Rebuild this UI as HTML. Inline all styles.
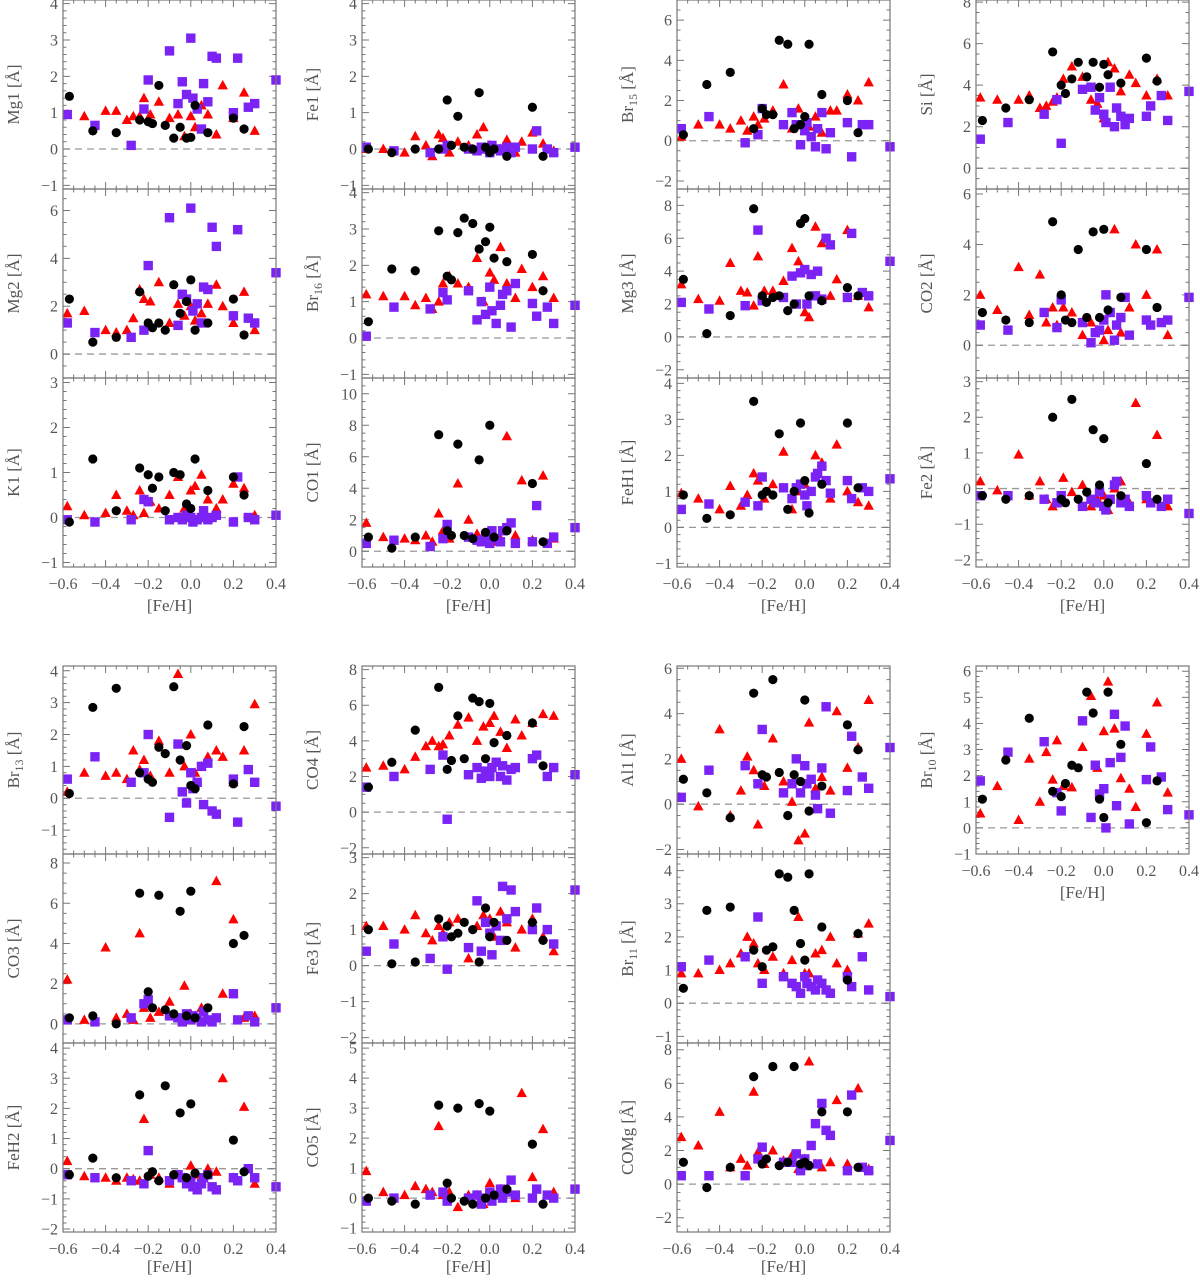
<!DOCTYPE html>
<html><head><meta charset="utf-8"><title>Equivalent widths vs [Fe/H]</title>
<style>
html,body{margin:0;padding:0;background:#fff;}
svg{display:block;}
text{font-family:"Liberation Serif","DejaVu Serif",serif;fill:#555;}
</style></head>
<body>
<svg id="fig" width="1200" height="1280" viewBox="0 0 1200 1280" xmlns="http://www.w3.org/2000/svg"></svg>
<script>
const feBlack  = [-0.57,-0.46,-0.35,-0.24,-0.2,-0.18,-0.15,-0.12,-0.08,-0.05,-0.02,0.0,0.02,0.08,0.2,0.25];
const feRed    = [-0.58,-0.5,-0.4,-0.35,-0.3,-0.27,-0.24,-0.22,-0.19,-0.15,-0.1,-0.06,-0.03,0.0,0.02,0.05,0.08,0.12,0.15,0.2,0.25,0.3];
const fePurple = [-0.58,-0.45,-0.28,-0.22,-0.2,-0.1,-0.06,-0.04,-0.02,0.0,0.01,0.03,0.05,0.06,0.08,0.1,0.12,0.2,0.22,0.27,0.3,0.4];
const xTicks = [-0.6,-0.4,-0.2,0.0,0.2,0.4];
const xTickLabels = ["\u22120.6","\u22120.4","\u22120.2","0.0","0.2","0.4"];

const mg1Black=[1.45,0.5,0.45,0.8,0.75,0.7,1.75,0.65,0.3,0.6,0.3,0.32,1.2,0.45,0.85,0.55];
const mg1Red=[0.95,0.9,1.05,1.05,0.8,0.9,0.9,1.4,0.95,1.3,0.85,0.95,0.35,0.9,0.6,1.2,0.95,0.4,1.75,0.85,1.55,0.5];
const mg1Purple=[0.95,0.65,0.1,1.1,1.9,2.7,1.25,1.85,1.5,3.05,1.4,1.1,0.55,1.8,1.3,2.55,2.5,1.0,2.5,1.15,1.25,1.9];
const fe1Black=[0,-0.1,0,0,1.35,0.1,0.9,0.05,0,1.55,0.05,-0.1,0,-0.2,1.15,-0.2];
const fe1Red=[0,0,-0.1,0.35,0.1,-0.2,0.4,0.3,-0.1,0.2,0.1,0.4,0.6,0.1,0.05,0,0.25,-0.1,0.2,0.45,0.15,-0.05];
const fe1Purple=[0.05,-0.05,-0.1,0,0.1,0,-0.05,0.05,0,-0.1,0.1,0,-0.05,0,0.05,-0.1,0.05,0,0.5,0,-0.1,0.05];
const br15Black=[0.3,2.8,3.4,0.6,1.6,1.3,1.3,5.0,4.8,0.6,0.8,1.2,4.8,2.3,2.0,0.4];
const br15Red=[0.2,0.8,0.8,0.6,1.0,0.5,1.2,0.8,1.1,1.5,2.8,0.6,1.6,0.5,0.7,1.2,0.4,1.5,1.5,2.3,2.0,2.9];
const br15Purple=[0.6,1.2,-0.1,0.3,1.6,0.8,1.4,0.8,-0.2,0.5,0.9,0.2,-0.3,0.6,1.4,-0.4,0.4,0.9,-0.8,0.8,0.8,-0.3];
const siBlack=[2.3,2.9,3.3,5.6,4.0,3.6,4.3,5.1,4.4,5.1,3.9,5.0,4.5,4.1,5.3,4.2];
const siRed=[3.4,3.3,3.3,3.5,2.9,3.0,3.2,3.4,4.3,4.9,4.4,3.3,3.1,2.4,5.1,4.8,3.7,4.5,4.1,3.5,4.3,3.5];
const siPurple=[1.4,2.2,2.6,3.3,1.2,3.8,3.9,2.8,3.4,2.6,2.2,3.9,2.0,2.9,2.5,2.1,2.4,2.5,3.0,3.5,2.3,3.7];
const mg2Black=[2.3,0.5,0.7,2.6,1.3,1.1,1.3,1.0,2.9,1.7,2.2,3.1,1.0,1.3,2.3,0.8];
const mg2Red=[1.7,1.8,1.0,0.9,1.0,1.5,2.7,2.3,2.2,3.0,1.3,2.1,1.6,2.0,1.4,1.7,2.1,2.9,2.0,1.3,2.6,1.0];
const mg2Purple=[1.3,0.9,0.7,1.0,3.7,5.7,1.2,2.5,2.3,6.1,1.8,2.1,1.3,2.8,2.7,5.3,4.5,1.6,5.2,1.5,1.3,3.4];
const br16Black=[0.45,1.9,1.85,2.95,1.7,1.6,2.9,3.3,3.15,2.45,2.65,3.05,2.2,2.1,2.3,1.3];
const br16Red=[1.2,1.15,1.15,0.9,1.1,0.8,1.0,1.5,1.7,1.5,1.4,2.2,1.0,1.8,1.6,2.5,1.5,1.1,1.9,1.4,1.7,1.1];
const br16Purple=[0.05,0.85,0.8,1.25,1.05,1.3,0.5,1.0,0.65,1.4,0.75,0.4,0.9,1.2,1.3,0.3,1.5,0.95,0.6,0.85,0.4,0.9];
const mg3Black=[3.5,0.2,1.3,7.8,2.5,2.1,2.4,2.5,1.6,2.0,6.9,7.2,2.5,2.2,3.0,2.5];
const mg3Red=[3.2,2.3,2.2,4.5,2.8,2.7,1.9,4.9,2.8,2.8,3.4,5.4,4.6,1.5,1.2,6.7,5.7,2.5,3.5,6.5,2.5,1.8];
const mg3Purple=[2.1,1.7,1.9,6.5,2.2,2.4,3.7,2.0,3.9,4.1,2.0,3.8,2.5,4.0,2.3,6.0,5.6,2.4,6.3,2.7,2.5,4.6];
const co2Black=[1.3,1.0,0.9,4.9,2.0,1.0,0.9,3.8,1.1,4.5,1.1,4.6,1.4,1.9,3.8,1.5];
const co2Red=[2.0,1.4,3.1,1.2,2.8,0.9,1.5,0.8,1.5,1.3,0.4,0.9,0.6,0.2,0.6,4.6,0.5,1.5,4.0,2.0,3.8,0.4];
const co2Purple=[0.8,0.6,1.3,0.7,1.8,0.9,0.1,0.5,0.6,1.0,2.0,1.3,0.2,0.8,1.1,1.9,0.4,1.0,0.8,0.9,1.0,1.9];
const k1Black=[-0.1,1.3,0.15,1.1,0.95,0.65,0.9,0.15,1.0,0.95,0.3,0.2,1.3,0.6,0.9,0.5];
const k1Red=[0.25,0.05,0.1,0.5,0.15,0.05,0.6,0.1,0.35,0.2,0.5,0.9,0.2,0.6,0.7,0.95,0.4,0.2,0.4,0.75,0.65,0.05];
const k1Purple=[-0.05,-0.1,-0.05,0.4,0.35,-0.05,0,-0.05,0.05,0,-0.1,-0.05,0,0.15,-0.05,0,0.05,-0.1,0.9,0,-0.05,0.05];
const co1Black=[0.9,0.2,0.9,7.4,1.3,1.0,6.8,1.0,0.8,5.8,1.2,8.0,0.9,1.3,4.3,0.6];
const co1Red=[1.8,0.9,0.8,0.7,1.0,0.6,2.4,1.3,0.8,4.3,2.0,1.1,1.0,0.7,0.6,0.8,7.3,1.0,4.5,0.7,4.8,0.8];
const co1Purple=[0.5,0.7,0.3,0.8,1.7,0.9,0.7,0.6,1.0,0.5,1.3,0.8,0.6,1.3,1.5,1.8,0.5,0.6,2.9,0.5,0.9,1.5];
const feh1Black=[0.9,0.25,0.35,3.5,0.9,1.0,0.9,2.6,0.5,1.0,2.9,1.3,0.4,1.2,2.9,1.1];
const feh1Red=[0.95,0.8,0.5,1.15,0.6,0.9,1.5,1.3,0.8,1.2,2.1,0.5,1.0,1.2,1.0,2.0,1.8,0.8,2.3,1.0,0.7,0.6];
const feh1Purple=[0.5,0.65,0.7,0.6,1.4,1.1,0.8,1.1,1.2,0.9,0.6,1.0,1.4,1.5,1.7,1.3,0.95,1.3,0.8,1.1,1.0,1.35];
const fe2Black=[-0.2,-0.3,-0.2,2.0,-0.3,-0.4,2.5,-0.3,-0.1,1.65,0.1,1.4,-0.4,-0.2,0.7,-0.3];
const fe2Red=[0.2,-0.05,0.95,-0.2,0.2,-0.3,-0.5,-0.4,0.3,-0.1,0.1,-0.5,-0.3,-0.2,-0.6,0,0.2,-0.4,2.4,-0.3,1.5,-0.5];
const fe2Purple=[-0.2,-0.2,-0.3,-0.4,-0.2,-0.5,-0.3,-0.4,-0.1,-0.5,-0.6,-0.3,0.1,0.2,-0.4,-0.3,-0.5,-0.2,-0.4,-0.5,-0.3,-0.7];
const br13Black=[0.15,2.85,3.45,0.8,0.6,0.5,1.6,1.4,3.5,1.2,1.65,0.4,0.3,2.3,0.45,2.25];
const br13Red=[0.2,0.8,0.7,0.8,0.6,1.5,0.9,1.2,0.7,1.8,0.8,3.9,1.0,2.0,0.8,1.0,1.3,1.5,1.3,0.5,1.5,2.95];
const br13Purple=[0.6,1.3,0.5,0.8,2.0,-0.6,1.7,0.2,-0.15,0.8,0.3,0.5,1.0,-0.2,1.1,-0.4,-0.5,0.6,-0.75,0.9,0.5,-0.25];
const co4Black=[1.4,2.8,4.6,7.0,2.4,2.9,5.4,3.0,6.4,6.2,3.0,6.1,3.9,4.3,5.0,2.6];
const co4Red=[2.5,2.6,2.4,3.1,3.7,4.0,3.7,3.8,4.3,4.9,5.3,4.0,4.8,5.0,5.4,4.5,3.6,5.2,4.3,5.0,5.5,5.4];
const co4Purple=[1.4,2.0,2.4,3.2,-0.4,2.1,2.5,1.9,2.3,2.0,2.5,2.8,2.0,2.6,1.8,2.4,2.5,3.0,3.2,2.0,2.5,2.1];
const al1Black=[1.1,0.5,-0.6,4.9,1.3,1.2,5.5,1.4,-0.5,1.3,1.0,4.6,-0.3,0.8,3.5,2.4];
const al1Red=[2.0,-0.1,3.3,-0.5,0.6,2.1,1.5,-0.9,0.8,2.9,1.0,0.1,-1.6,-1.3,3.6,0.7,1.2,0.6,4.1,1.6,2.5,4.6];
const al1Purple=[0.3,1.5,1.7,0.9,3.3,0.5,0.9,2.0,0.5,1.7,0.9,1.1,0.4,-0.2,1.6,4.3,-0.4,0.6,3.0,1.2,0.7,2.5];
const br10Black=[1.1,2.6,4.2,1.4,1.2,1.7,2.4,2.3,5.2,4.4,1.1,0.4,5.2,3.2,0.2,1.8];
const br10Red=[0.55,1.6,0.3,2.65,1.0,2.9,1.85,3.35,1.6,1.55,3.1,5.05,2.3,3.7,5.6,3.8,1.9,1.5,0.8,3.6,4.8,1.35];
const br10Purple=[1.8,2.9,3.3,1.35,0.65,4.1,0.4,2.4,1.3,1.5,0.0,2.5,4.35,0.85,2.7,3.9,0.15,1.85,3.1,1.95,0.7,0.5];
const co3Black=[0.3,0.4,0.0,6.5,1.6,0.8,6.4,0.7,0.5,5.6,0.4,6.6,0.3,0.8,4.0,4.4];
const co3Red=[2.2,0.2,3.8,0.3,0.5,0.2,4.5,0.8,0.3,0.6,1.1,0.3,1.9,0.5,0.4,0.8,0.2,7.1,1.5,5.2,0.3,0.4];
const co3Purple=[0.2,0.1,0.3,1.0,1.2,0.4,0.3,0.1,0.5,0.2,0.4,0.3,0.1,0.6,0.2,0.1,0.3,1.5,0.2,0.4,0.1,0.8];
const fe3Black=[1.0,0.05,0.1,1.3,1.1,0.8,0.9,1.2,1.0,0.1,1.6,0.8,1.2,0.7,1.2,0.7];
const fe3Red=[1.1,1.1,1.0,1.4,0.9,0.7,1.1,0.9,1.2,1.3,0.2,1.1,1.4,1.3,0.8,1.5,1.2,0.5,1.0,1.3,0.8,0.4];
const fe3Purple=[0.4,0.6,0.2,0.8,-0.1,0.5,1.8,0.4,1.2,0.9,0.3,1.1,0.7,2.2,1.3,2.1,1.5,1.0,1.6,1.0,0.6,2.1];
const br11Black=[0.45,2.8,2.9,1.6,1.1,1.6,1.7,3.9,3.8,2.8,1.8,1.3,3.9,2.3,0.7,2.1];
const br11Red=[0.9,0.9,1.0,1.2,1.5,2.0,1.8,1.2,1.0,1.4,0.9,1.3,2.6,0.9,0.9,1.5,1.6,2.0,1.2,1.0,2.1,2.4];
const br11Purple=[1.1,1.3,1.4,2.6,0.6,0.8,0.6,0.5,0.3,0.8,0.6,0.5,0.4,0.7,0.6,0.4,0.3,0.8,0.5,1.4,0.4,0.2];
const feh2Black=[-0.2,0.35,-0.3,2.45,-0.25,-0.1,-0.4,2.75,-0.2,1.85,-0.3,2.15,-0.15,-0.2,0.95,-0.1];
const feh2Red=[0.25,-0.25,-0.3,-0.4,-0.3,-0.35,-0.4,1.65,-0.2,-0.3,-0.5,-0.2,-0.3,0.1,-0.2,-0.4,0.0,-0.1,3.0,-0.3,2.05,-0.5];
const feh2Purple=[-0.2,-0.3,-0.4,-0.5,0.6,-0.4,-0.2,-0.3,-0.5,-0.4,-0.6,-0.7,-0.5,-0.3,-0.2,-0.6,-0.7,-0.3,-0.4,0.0,-0.3,-0.6];
const co5Black=[0.0,-0.1,-0.2,3.1,0.5,0.0,3.0,-0.1,-0.2,3.15,0.0,2.9,0.1,0.3,1.8,-0.2];
const co5Red=[0.9,0.2,0.1,0.4,0.3,0.2,2.4,0.1,0.2,-0.3,0.1,0.1,-0.2,0.5,0.1,0.3,0.2,0.0,3.5,0.7,2.3,0.2];
const co5Purple=[-0.1,0.0,0.1,0.2,-0.1,0.0,0.1,-0.2,0.0,0.2,-0.1,0.1,0.3,0.0,0.2,0.6,0.1,0.0,0.3,0.1,0.0,0.3];
const comgBlack=[1.3,-0.2,1.0,6.4,1.2,1.5,7.0,1.1,1.3,7.0,1.2,1.3,1.1,4.3,4.3,1.0];
const comgRed=[2.8,2.3,4.3,1.0,1.5,1.1,5.5,1.9,1.2,2.0,1.4,1.7,0.9,1.5,7.3,1.2,1.0,1.3,5.0,1.2,5.7,0.9];
const comgPurple=[0.5,0.5,0.5,1.5,2.2,1.3,1.3,1.8,0.8,1.5,1.1,2.3,3.6,1.2,4.8,3.2,2.9,0.8,5.3,1.0,0.8,2.6];

const NS='http://www.w3.org/2000/svg';
const svg=document.getElementById('fig');
function mk(tag,attrs,parent){const e=document.createElementNS(NS,tag);for(const k in attrs)e.setAttribute(k,attrs[k]);(parent||svg).appendChild(e);return e;}

const colL=[63,362,677,976], colW=213;
const topRows=[0,189,378,567], botRows=[666,854,1043,1232];
const GRAY='#777';

const panels=[
 ['mg1','Mg1','',0,0,0,-1.1,4.1,1,mg1Black,mg1Red,mg1Purple],
 ['mg2','Mg2','',0,0,1,-1.0,6.9,2,mg2Black,mg2Red,mg2Purple],
 ['k1','K1','',0,0,2,-1.1,3.1,1,k1Black,k1Red,k1Purple],
 ['fe1','Fe1','',1,0,0,-1.1,4.1,1,fe1Black,fe1Red,fe1Purple],
 ['br16','Br','16',1,0,1,-1.1,4.1,1,br16Black,br16Red,br16Purple],
 ['co1','CO1','',1,0,2,-1.0,11.0,2,co1Black,co1Red,co1Purple],
 ['br15','Br','15',2,0,0,-2.4,7.0,2,br15Black,br15Red,br15Purple],
 ['mg3','Mg3','',2,0,1,-2.5,9.0,2,mg3Black,mg3Red,mg3Purple],
 ['feh1','FeH1','',2,0,2,-1.1,4.15,1,feh1Black,feh1Red,feh1Purple],
 ['si','Si','',3,0,0,-1.0,8.1,2,siBlack,siRed,siPurple],
 ['co2','CO2','',3,0,1,-1.3,6.2,2,co2Black,co2Red,co2Purple],
 ['fe2','Fe2','',3,0,2,-2.2,3.1,1,fe2Black,fe2Red,fe2Purple],
 ['br13','Br','13',0,1,0,-1.75,4.15,1,br13Black,br13Red,br13Purple],
 ['co3','CO3','',0,1,1,-0.95,8.45,2,co3Black,co3Red,co3Purple],
 ['feh2','FeH2','',0,1,2,-2.1,4.17,1,feh2Black,feh2Red,feh2Purple],
 ['co4','CO4','',1,1,0,-2.35,8.2,2,co4Black,co4Red,co4Purple],
 ['fe3','Fe3','',1,1,1,-2.15,3.1,1,fe3Black,fe3Red,fe3Purple],
 ['co5','CO5','',1,1,2,-1.13,5.17,1,co5Black,co5Red,co5Purple],
 ['al1','Al1','',2,1,0,-2.2,6.1,2,al1Black,al1Red,al1Purple],
 ['br11','Br','11',2,1,1,-1.2,4.5,1,br11Black,br11Red,br11Purple],
 ['comg','COMg','',2,1,2,-2.85,8.4,2,comgBlack,comgRed,comgPurple],
 ['br10','Br','10',3,1,0,-1.0,6.2,1,br10Black,br10Red,br10Purple]
];
const lastRow={ '0_0':2,'0_1':2,'0_2':2,'0_3':2,'1_0':2,'1_1':2,'1_2':2,'1_3':0 };

function fmt(v){const s=String(Math.round(v*100)/100);return v<0?'\u2212'+s.slice(1):s;}

panels.forEach(p=>{
  const [id,lab,sub,col,block,row,ymin,ymax,step,yB,yR,yP]=p;
  const rows=block===0?topRows:botRows;
  const L=colL[col],R=L+colW,T=rows[row],B=rows[row+1];
  const g=mk('g',{});
  
  
  const xs=v=>L+(v+0.6)/1.0*colW;
  const ys=v=>B-(v-ymin)/(ymax-ymin)*(B-T);
  const z=mk('line',{x1:L,x2:R,y1:ys(0),y2:ys(0),stroke:'#999','stroke-width':1.3,'stroke-dasharray':'7,5'},g);
  
  
  let tp='';
  for(let v=-0.6;v<=0.4001;v+=0.05){const x=xs(v);const maj=Math.abs(Math.round(v*100)%20)<1;const len=maj?7:3.5;tp+=`M${x},${B}v${-len}M${x},${T}v${len}`;}
  const minor=step/ (step===2?4:5);
  for(let v=Math.ceil(ymin/minor)*minor;v<=ymax+1e-6;v+=minor){const y=ys(v);const maj=Math.abs(v/step-Math.round(v/step))<1e-6;const len=maj?7:3.5;tp+=`M${L},${y}h${len}M${R},${y}h${-len}`;}
  mk('path',{d:tp,stroke:GRAY,'stroke-width':1,fill:'none'},g);
  const yl=mk('g',{},g);
  
  
  for(let v=Math.ceil(ymin/step)*step;v<=ymax+1e-6;v+=step){
    const t=mk('text',{x:L-5,y:ys(v)+5.5,'text-anchor':'end','font-size':16},yl);t.textContent=fmt(v);
  }
  const cx=L-44,cy=(T+B)/2;
  const t=mk('text',{x:cx,y:cy,'text-anchor':'middle','font-size':17,transform:`rotate(-90 ${cx} ${cy})`},g);
  
  
  if(sub){t.appendChild(document.createTextNode(lab));const s=document.createElementNS(NS,'tspan');s.setAttribute('font-size',12);s.setAttribute('dy',4);s.textContent=sub;t.appendChild(s);const r=document.createElementNS(NS,'tspan');r.setAttribute('dy',-4);r.textContent=' [\u00c5]';t.appendChild(r);}
  else t.textContent=lab+' [\u00c5]';
  const sb=mk('g',{},g);
  feRed.forEach((x,i)=>{const px=xs(x),py=ys(yR[i]);const m=mk('path',{d:`M${px},${py-5.5}L${px+5.2},${py+4}L${px-5.2},${py+4}Z`,fill:'#ff0000'},sb);
    });
  const sp=mk('g',{},g);
  fePurple.forEach((x,i)=>{const m=mk('rect',{x:xs(x)-4.7,y:ys(yP[i])-4.7,width:9.4,height:9.4,fill:'#7b22f5'},sp);
    });
  const sk=mk('g',{},g);
  feBlack.forEach((x,i)=>{const m=mk('circle',{cx:xs(x),cy:ys(yB[i]),r:4.6,fill:'#000'},sk);
    });
  const fr=mk('rect',{x:L,y:T,width:colW,height:B-T,fill:'none',stroke:GRAY,'stroke-width':1.2},g);
  
  if(lastRow[block+'_'+col]===row){
    const xl=mk('g',{},g);
    xTicks.forEach((v,i)=>{const tt=mk('text',{x:xs(v),y:B+22,'text-anchor':'middle','font-size':16},xl);tt.textContent=xTickLabels[i];});
    const off = (B>1200)?40:44;
    const xt=mk('text',{x:(L+R)/2,y:B+off,'text-anchor':'middle','font-size':17},g);xt.textContent='[Fe/H]';
    
  }
});
</script>
</body></html>
